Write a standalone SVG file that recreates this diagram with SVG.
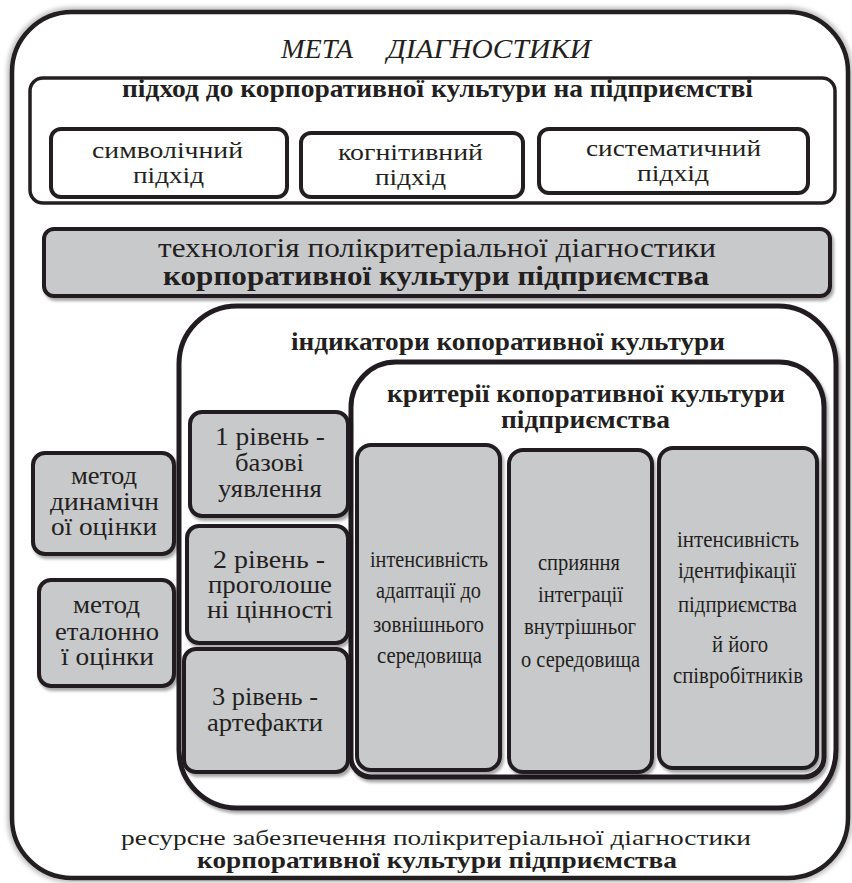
<svg xmlns="http://www.w3.org/2000/svg" width="852" height="883" viewBox="0 0 852 883">
<style>
.t{font-family:"Liberation Serif","DejaVu Serif","Times New Roman",serif;font-size:26px;fill:#231f20}
.b{font-weight:bold}
.i{font-style:italic}
.c{font-size:24px}
.l{font-size:25px}
.s{font-size:24px}
.box{fill:#fff;stroke:#231f20;stroke-width:4}
.g{fill:#c8c9cb}
</style>
<defs>
<filter id="sh" x="-10%" y="-10%" width="130%" height="130%">
<feDropShadow dx="2" dy="3" stdDeviation="1.5" flood-color="#000" flood-opacity="0.35"/>
</filter>
<filter id="blur" x="-5%" y="-5%" width="110%" height="110%">
<feGaussianBlur stdDeviation="2"/>
</filter>
</defs>
<rect width="852" height="883" fill="#fff"/>

<g id="frame">
<rect x="12" y="12" width="836" height="866" rx="60" fill="none" stroke="#9a9a9a" stroke-width="10" filter="url(#blur)" opacity="0.6"/>
<rect x="12" y="12" width="836" height="866" rx="60" fill="#fff" stroke="#231f20" stroke-width="4.5"/>
<text class="t i" y="58" x="281" textLength="72" lengthAdjust="spacingAndGlyphs" style="font-size:27px">МЕТА</text>
<text class="t i" y="58" x="387" textLength="204" lengthAdjust="spacingAndGlyphs" style="font-size:27px">ДІАГНОСТИКИ</text>
<text class="t" x="121" y="845" textLength="630" lengthAdjust="spacingAndGlyphs" style="font-size:22px">ресурсне забезпечення полікритеріальної діагностики</text>
<text class="t b" x="197" y="868" textLength="480" lengthAdjust="spacingAndGlyphs" style="font-size:23px">корпоративної культури підприємства</text>
</g>

<g id="approach">
<rect class="box" x="30" y="78" width="805" height="125" rx="13" style="stroke-width:3.5"/>
<text class="t b" x="122" y="97" textLength="631" lengthAdjust="spacingAndGlyphs">підход до корпоративної культури на підприємстві</text>
</g>

<g id="symbolic">
<rect class="box" x="51" y="129" width="236" height="68" rx="10"/>
<text class="t s" x="92" y="158" textLength="151" lengthAdjust="spacingAndGlyphs">символічний</text>
<text class="t s" x="133" y="183" textLength="71" lengthAdjust="spacingAndGlyphs">підхід</text>
</g>

<g id="cognitive">
<rect class="box" x="301" y="133" width="222" height="64" rx="10"/>
<text class="t s" x="338" y="160" textLength="145" lengthAdjust="spacingAndGlyphs">когнітивний</text>
<text class="t s" x="375" y="185" textLength="71" lengthAdjust="spacingAndGlyphs">підхід</text>
</g>

<g id="systematic">
<rect class="box" x="539" y="129" width="269" height="64" rx="10"/>
<text class="t s" x="586" y="156" textLength="175" lengthAdjust="spacingAndGlyphs">систематичний</text>
<text class="t s" x="637" y="181" textLength="72" lengthAdjust="spacingAndGlyphs">підхід</text>
</g>

<g id="technology">
<rect class="box g" x="44" y="229" width="786" height="67" rx="10" filter="url(#sh)"/>
<text class="t" x="158" y="257" textLength="558" lengthAdjust="spacingAndGlyphs" style="font-size:28px">технологія полікритеріальної діагностики</text>
<text class="t b" x="163" y="285" textLength="546" lengthAdjust="spacingAndGlyphs" style="font-size:28px">корпоративної культури підприємства</text>
</g>

<g id="indicators">
<rect class="box" x="179" y="306" width="657" height="502" rx="58" style="stroke-width:5" filter="url(#sh)"/>
<text class="t b" x="291" y="350" textLength="434" lengthAdjust="spacingAndGlyphs">індикатори копоративної культури</text>
</g>

<g id="criteria">
<path class="box" d="M351,407 A45,45 0 0 1 396,362 L779,362 A45,45 0 0 1 824,407 L824,757 A20,20 0 0 1 804,777 L371,777 A20,20 0 0 1 351,757 Z" style="stroke-width:5" filter="url(#sh)"/>
<text class="t b" x="387" y="402" textLength="398" lengthAdjust="spacingAndGlyphs">критерії копоративної культури</text>
<text class="t b" x="501" y="428" textLength="169" lengthAdjust="spacingAndGlyphs">підприємства</text>
</g>

<g id="level1">
<rect class="box g" x="190" y="412" width="158" height="104" rx="12" filter="url(#sh)"/>
<text class="t l" x="215" y="445" textLength="110" lengthAdjust="spacingAndGlyphs">1 рівень -</text>
<text class="t l" x="235" y="471" textLength="69" lengthAdjust="spacingAndGlyphs">базові</text>
<text class="t l" x="218" y="497" textLength="104" lengthAdjust="spacingAndGlyphs">уявлення</text>
</g>

<g id="level2">
<rect class="box g" x="187" y="526" width="161" height="117" rx="12" filter="url(#sh)"/>
<text class="t l" x="213" y="568" textLength="112" lengthAdjust="spacingAndGlyphs">2 рівень -</text>
<text class="t l" x="208" y="593" textLength="124" lengthAdjust="spacingAndGlyphs">проголоше</text>
<text class="t l" x="207" y="618" textLength="126" lengthAdjust="spacingAndGlyphs">ні цінності</text>
</g>

<g id="level3">
<rect class="box g" x="184" y="649" width="164" height="123" rx="12" filter="url(#sh)"/>
<text class="t l" x="212" y="705" textLength="106" lengthAdjust="spacingAndGlyphs">3 рівень -</text>
<text class="t l" x="207" y="731" textLength="116" lengthAdjust="spacingAndGlyphs">артефакти</text>
</g>

<g id="method-dynamic">
<rect class="box g" x="33" y="453" width="141" height="101" rx="12" filter="url(#sh)"/>
<text class="t l" x="71" y="484" textLength="66" lengthAdjust="spacingAndGlyphs">метод</text>
<text class="t l" x="50" y="510" textLength="109" lengthAdjust="spacingAndGlyphs">динамічн</text>
<text class="t l" x="51" y="535" textLength="106" lengthAdjust="spacingAndGlyphs">ої оцінки</text>
</g>

<g id="method-reference">
<rect class="box g" x="39" y="580" width="135" height="106" rx="12" filter="url(#sh)"/>
<text class="t l" x="73" y="613" textLength="67" lengthAdjust="spacingAndGlyphs">метод</text>
<text class="t l" x="55" y="640" textLength="104" lengthAdjust="spacingAndGlyphs">еталонно</text>
<text class="t l" x="61" y="665" textLength="93" lengthAdjust="spacingAndGlyphs">ї оцінки</text>
</g>

<g id="crit-adaptation">
<rect class="box g" x="357" y="445" width="143" height="325" rx="14" filter="url(#sh)"/>
<text class="t c" x="370" y="567" textLength="118" lengthAdjust="spacingAndGlyphs">інтенсивність</text>
<text class="t c" x="376" y="598" textLength="105" lengthAdjust="spacingAndGlyphs">адаптації до</text>
<text class="t c" x="373" y="632" textLength="111" lengthAdjust="spacingAndGlyphs">зовнішнього</text>
<text class="t c" x="377" y="663" textLength="105" lengthAdjust="spacingAndGlyphs">середовища</text>
</g>

<g id="crit-integration">
<rect class="box g" x="509" y="450" width="143" height="322" rx="14" filter="url(#sh)"/>
<text class="t c" x="538" y="570" textLength="82" lengthAdjust="spacingAndGlyphs">сприяння</text>
<text class="t c" x="538" y="602" textLength="85" lengthAdjust="spacingAndGlyphs">інтеграції</text>
<text class="t c" x="524" y="634" textLength="112" lengthAdjust="spacingAndGlyphs">внутрішньог</text>
<text class="t c" x="521" y="667" textLength="119" lengthAdjust="spacingAndGlyphs">о середовища</text>
</g>

<g id="crit-identification">
<rect class="box g" x="659" y="448" width="158" height="320" rx="14" filter="url(#sh)"/>
<text class="t c" x="677" y="547" textLength="122" lengthAdjust="spacingAndGlyphs">інтенсивність</text>
<text class="t c" x="678" y="578" textLength="118" lengthAdjust="spacingAndGlyphs">ідентифікації</text>
<text class="t c" x="678" y="612" textLength="119" lengthAdjust="spacingAndGlyphs">підприємства</text>
<text class="t c" x="712" y="652" textLength="56" lengthAdjust="spacingAndGlyphs">й його</text>
<text class="t c" x="673" y="683" textLength="130" lengthAdjust="spacingAndGlyphs">співробітників</text>
</g>

<g id="connectors"></g>
</svg>
